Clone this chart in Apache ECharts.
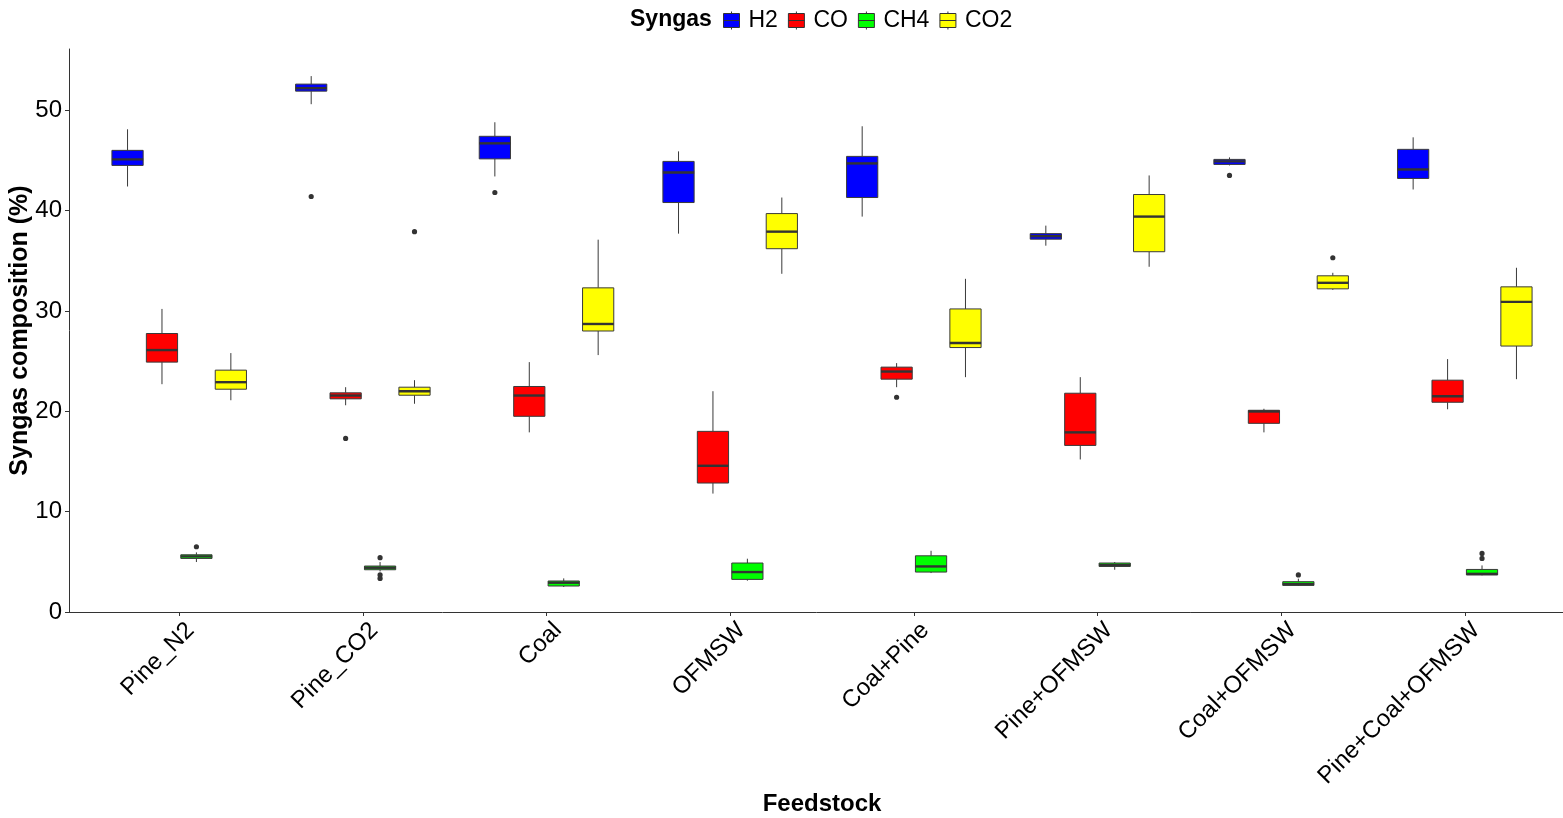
<!DOCTYPE html>
<html>
<head>
<meta charset="utf-8">
<script src="https://cdn.jsdelivr.net/npm/echarts@6/dist/echarts.min.js"></script>
<style>
  html, body { margin: 0; padding: 0; background: #ffffff; }
  #chart { width: 1563px; height: 818px; }
</style>
</head>
<body>
<div id="chart"></div>
<script>
// Feedstocks on the x axis
const feedstocks = ['Pine_N2', 'Pine_CO2', 'Coal', 'OFMSW', 'Coal+Pine', 'Pine+OFMSW', 'Coal+OFMSW', 'Pine+Coal+OFMSW'];
const gases = ['H2', 'CO', 'CH4', 'CO2'];
const gasColors = ['#0000FF', '#FF0000', '#00FF00', '#FFFF00'];

// Box summaries per feedstock: [lower whisker, Q1, median, Q3, upper whisker]
const h2Stats = [
  [42.4, 44.5, 45.1, 46.0, 48.1],
  [50.6, 51.9, 52.2, 52.6, 53.4],
  [43.4, 45.15, 46.7, 47.4, 48.8],
  [37.7, 40.8, 43.8, 44.9, 45.9],
  [39.4, 41.3, 44.7, 45.4, 48.4],
  [36.5, 37.15, 37.45, 37.7, 38.5],
  [44.5, 44.6, 44.9, 45.1, 45.3],
  [42.1, 43.2, 44.1, 46.1, 47.3]
];
const coStats = [
  [22.7, 24.9, 26.1, 27.75, 30.2],
  [20.6, 21.24, 21.57, 21.84, 22.4],
  [17.9, 19.5, 21.57, 22.47, 24.9],
  [11.8, 12.85, 14.57, 18.0, 22.0],
  [22.4, 23.2, 23.96, 24.4, 24.8],
  [15.2, 16.6, 17.9, 21.8, 23.4],
  [17.9, 18.8, 19.98, 20.1, 20.25],
  [20.2, 20.9, 21.5, 23.1, 25.2]
];
const ch4Stats = [
  [4.98, 5.34, 5.54, 5.7, 5.94],
  [4.04, 4.21, 4.41, 4.58, 4.98],
  [2.49, 2.59, 2.92, 3.09, 3.35],
  [3.12, 3.25, 3.98, 4.88, 5.31],
  [3.88, 3.98, 4.54, 5.6, 6.1],
  [4.21, 4.54, 4.68, 4.88, 4.98],
  [2.59, 2.65, 2.78, 3.02, 3.32],
  [3.65, 3.69, 3.8, 4.24, 4.64]
];
const co2Stats = [
  [21.1, 22.2, 22.9, 24.1, 25.8],
  [20.75, 21.6, 22.0, 22.4, 23.1],
  [25.6, 28.0, 28.7, 32.3, 37.1],
  [33.7, 36.2, 37.9, 39.7, 41.3],
  [23.4, 26.35, 26.8, 30.2, 33.2],
  [34.4, 35.9, 39.4, 41.6, 43.5],
  [32.1, 32.2, 32.8, 33.5, 33.8],
  [23.2, 26.5, 30.9, 32.4, 34.3]
];

// Outliers: [feedstock index, value]
const h2Outliers = [[1, 41.4], [2, 41.8], [6, 43.5]];
const coOutliers = [[1, 17.3], [4, 21.4]];
const ch4Outliers = [[0, 6.5], [1, 5.41], [1, 3.69], [1, 3.35], [6, 3.69], [7, 5.34], [7, 5.84]];
const co2Outliers = [[1, 37.9], [6, 35.3]];

const yTicks = [0, 10, 20, 30, 40, 50];

const statsByGas = [h2Stats, coStats, ch4Stats, co2Stats];
const outliersByGas = [h2Outliers, coOutliers, ch4Outliers, co2Outliers];

const FONT = '"Liberation Sans", Arial, sans-serif';
const EDGE = '#3a3a3a';
const MEDIAN = '#333333';
const DODGE = 0.1875;   // spacing between the four boxes of one feedstock (in category units)
const BOX_W = 0.17;     // box width (in category units)

function boxRenderer(gi) {
  return function (params, api) {
    const idx = api.value(0);
    const band = api.size([1, 0])[0];
    const cx = api.coord([idx, 0])[0] + (gi - 1.5) * DODGE * band;
    const half = BOX_W * band / 2;
    const y = k => api.coord([idx, api.value(k)])[1];
    const yLow = y(1), yQ1 = y(2), yMed = y(3), yQ3 = y(4), yHigh = y(5);
    return {
      type: 'group',
      children: [
        { type: 'line', shape: { x1: cx, y1: yQ3, x2: cx, y2: yHigh }, style: { stroke: EDGE, lineWidth: 1 } },
        { type: 'line', shape: { x1: cx, y1: yQ1, x2: cx, y2: yLow }, style: { stroke: EDGE, lineWidth: 1 } },
        { type: 'rect', shape: { x: cx - half, y: yQ3, width: 2 * half, height: yQ1 - yQ3 },
          style: { fill: api.visual('color'), stroke: EDGE, lineWidth: 1 } },
        { type: 'line', shape: { x1: cx - half, y1: yMed, x2: cx + half, y2: yMed }, style: { stroke: MEDIAN, lineWidth: 2.4 } }
      ]
    };
  };
}

function outlierRenderer(gi) {
  return function (params, api) {
    const idx = api.value(0);
    const band = api.size([1, 0])[0];
    const p = api.coord([idx, api.value(1)]);
    return {
      type: 'circle',
      shape: { cx: p[0] + (gi - 1.5) * DODGE * band, cy: p[1], r: 2.6 },
      style: { fill: '#333333' }
    };
  };
}

const series = [];
gases.forEach((g, gi) => {
  series.push({
    name: g,
    type: 'custom',
    renderItem: boxRenderer(gi),
    itemStyle: { color: gasColors[gi] },
    encode: { x: 0, y: [1, 2, 3, 4, 5] },
    data: statsByGas[gi].map((s, i) => [i].concat(s)),
    z: 2
  });
});
gases.forEach((g, gi) => {
  series.push({
    name: g + ' outliers',
    type: 'custom',
    renderItem: outlierRenderer(gi),
    itemStyle: { color: '#333333' },
    encode: { x: 0, y: 1 },
    data: outliersByGas[gi],
    z: 3
  });
});

const chart = echarts.init(document.getElementById('chart'), null, { renderer: 'canvas' });
chart.setOption({
  backgroundColor: '#ffffff',
  animation: false,
  title: {
    text: 'Syngas',
    left: 630, top: 8, padding: 0,
    textStyle: { fontSize: 23, fontWeight: 'bold', color: '#000', fontFamily: FONT }
  },
  legend: {
    data: gases,
    left: 723, top: 9, padding: 0,
    itemGap: 10, itemWidth: 16, itemHeight: 18,
    icon: 'path://M0,2H16V16H0ZM0,9H16M8,0V2M8,16V18',
    itemStyle: { borderColor: '#333333', borderWidth: 1 },
    textStyle: { fontSize: 23, color: '#000', fontFamily: FONT, padding: [0, 0, 0, 4] }
  },
  grid: { left: 69, right: -12, top: 49, bottom: 206, containLabel: false, outerBoundsMode: 'none' },
  xAxis: {
    type: 'value',
    min: -0.6, max: 7.6,
    axisLine: { show: true, onZero: false, lineStyle: { color: '#333333', width: 1 } },
    axisTick: { show: true, customValues: feedstocks.map((f, i) => i), length: 4, lineStyle: { color: '#333333' } },
    axisLabel: {
      customValues: feedstocks.map((f, i) => i),
      formatter: v => feedstocks[Math.round(v)],
      rotate: 45, fontSize: 24, color: '#000', fontFamily: FONT,
      margin: 9, verticalAlign: 'top', padding: [0, -4, 0, 0]
    },
    splitLine: { show: false },
    name: 'Feedstock', nameLocation: 'middle', nameGap: 180, nameMoveOverlap: false,
    nameTextStyle: { fontSize: 24, fontWeight: 'bold', color: '#000', fontFamily: FONT }
  },
  yAxis: {
    type: 'value',
    min: 0, max: 56.1,
    axisLine: { show: true, onZero: false, lineStyle: { color: '#333333', width: 1 } },
    axisTick: { show: true, customValues: yTicks, length: 4, lineStyle: { color: '#333333' } },
    axisLabel: { customValues: yTicks, fontSize: 24, color: '#000', fontFamily: FONT, margin: 7 },
    splitLine: { show: false },
    name: 'Syngas composition (%)', nameLocation: 'middle', nameGap: 36, nameMoveOverlap: false,
    nameTextStyle: { fontSize: 25, fontWeight: 'bold', color: '#000', fontFamily: FONT }
  },
  series: series
});
</script>
</body>
</html>
